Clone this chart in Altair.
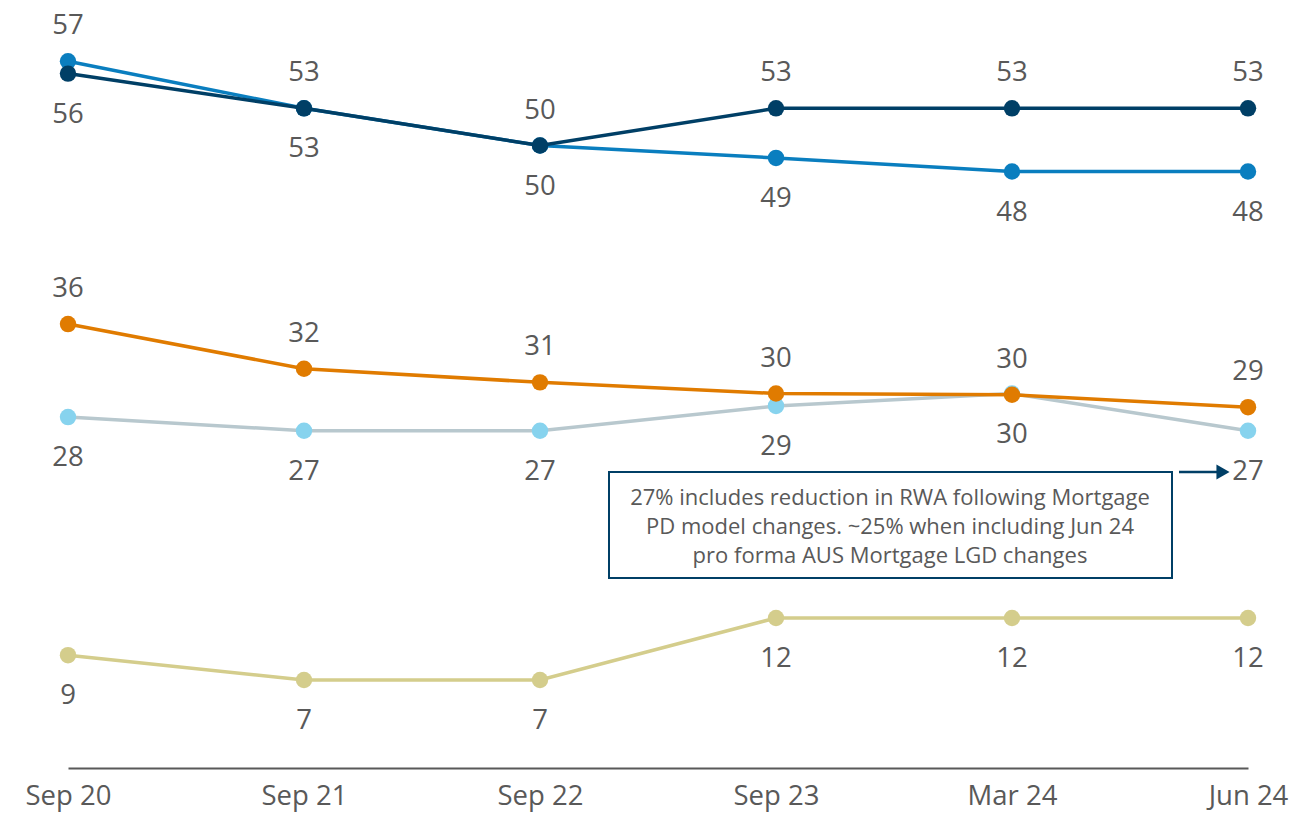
import altair as alt
import pandas as pd

periods = ["Sep 20", "Sep 21", "Sep 22", "Sep 23", "Mar 24", "Jun 24"]

navy_vals = [56.0, 53.2, 50.2, 53.2, 53.2, 53.2]
blue_vals = [57.0, 53.2, 50.2, 49.2, 48.1, 48.1]
orange_vals = [35.8, 32.2, 31.1, 30.2, 30.1, 29.1]
light_vals = [28.3, 27.2, 27.2, 29.2, 30.2, 27.2]
khaki_vals = [9.1, 7.1, 7.1, 12.1, 12.1, 12.1]

series_names = ["navy", "blue", "orange", "light", "khaki"]
line_colors = ["#003F66", "#0A7EBF", "#E07B00", "#B8C8CE", "#D4CD8C"]
point_colors = ["#003F66", "#0A7EBF", "#E07B00", "#87D3EE", "#D4CD8C"]

note_lines = [
    "27% includes reduction in RWA following Mortgage",
    "PD model changes. ~25% when including Jun 24",
    "pro forma AUS Mortgage LGD changes",
]

rows = []
all_vals = dict(zip(series_names, [navy_vals, blue_vals, orange_vals, light_vals, khaki_vals]))
for s, vals in all_vals.items():
    for i, (p, v) in enumerate(zip(periods, vals)):
        if s == "navy":
            side = "below" if blue_vals[i] > navy_vals[i] else "above"
        elif s == "blue":
            side = "above" if blue_vals[i] > navy_vals[i] else "below"
        elif s == "orange":
            side = "above"
        else:
            side = "below"
        rows.append({"series": s, "period": p, "value": v, "side": side})
df = pd.DataFrame(rows)

FONT = "Open Sans"
TXT = "#595959"
FS = 27.5

x_enc = alt.X("period:N", sort=periods,
              scale=alt.Scale(type="point", padding=0),
              axis=alt.Axis(title=None, labelAngle=0, ticks=False, grid=False,
                            domainColor=TXT, domainWidth=2,
                            labelFontSize=FS, labelColor=TXT, labelFont=FONT,
                            labelPadding=14))
y_enc = alt.Y("value:Q", scale=alt.Scale(domain=[0, 60]), axis=None)

base = alt.Chart(df)

layers = []
for s in series_names[::-1]:
    i = series_names.index(s)
    sub = base.transform_filter(alt.datum.series == s)
    layers.append(sub.mark_line(strokeWidth=3.5, color=line_colors[i]).encode(x=x_enc, y=y_enc))
    layers.append(sub.mark_circle(size=270, opacity=1, color=point_colors[i]).encode(x=x_enc, y=y_enc))

labels_above = base.transform_filter(alt.datum.side == "above").mark_text(
    dy=-35, fontSize=FS, font=FONT, color=TXT, baseline="middle"
).encode(x=x_enc, y=y_enc, text=alt.Text("value:Q", format=".0f"))
labels_below = base.transform_filter(alt.datum.side == "below").mark_text(
    dy=41, fontSize=FS, font=FONT, color=TXT, baseline="middle"
).encode(x=x_enc, y=y_enc, text=alt.Text("value:Q", format=".0f"))

note_df = pd.DataFrame({"line": note_lines, "idx": list(range(len(note_lines)))})
box = alt.Chart(pd.DataFrame({"a": [0]})).mark_rect(
    fill="white", stroke="#003F66", strokeWidth=2
).encode(x=alt.value(541), x2=alt.value(1104), y=alt.value(448), y2=alt.value(554))
note_text = alt.Chart(note_df).transform_calculate(
    ypix="datum.idx * 29 + 474"
).mark_text(
    fontSize=22, font=FONT, color=TXT, align="center", baseline="middle"
).encode(x=alt.value(822), y=alt.Y("ypix:Q", scale=None), text="line:N")
arrow_line = alt.Chart(pd.DataFrame({"a": [0]})).mark_rule(
    color="#003F66", strokeWidth=2.5
).encode(x=alt.value(1111), x2=alt.value(1152), y=alt.value(448))
arrow_head = alt.Chart(pd.DataFrame({"a": [0]})).mark_point(
    shape="triangle-right", filled=True, color="#003F66", size=230, opacity=1
).encode(x=alt.value(1155), y=alt.value(448))

chart = alt.layer(*layers, labels_above, labels_below, box, note_text, arrow_line, arrow_head).properties(
    width=1180, height=744,
    autosize=alt.AutoSizeParams(type="none"),
    padding={"left": 60, "top": 16, "right": 56, "bottom": 49},
).configure_view(stroke=None)

chart.save("out.html", embed_options={"renderer": "svg", "actions": False})
